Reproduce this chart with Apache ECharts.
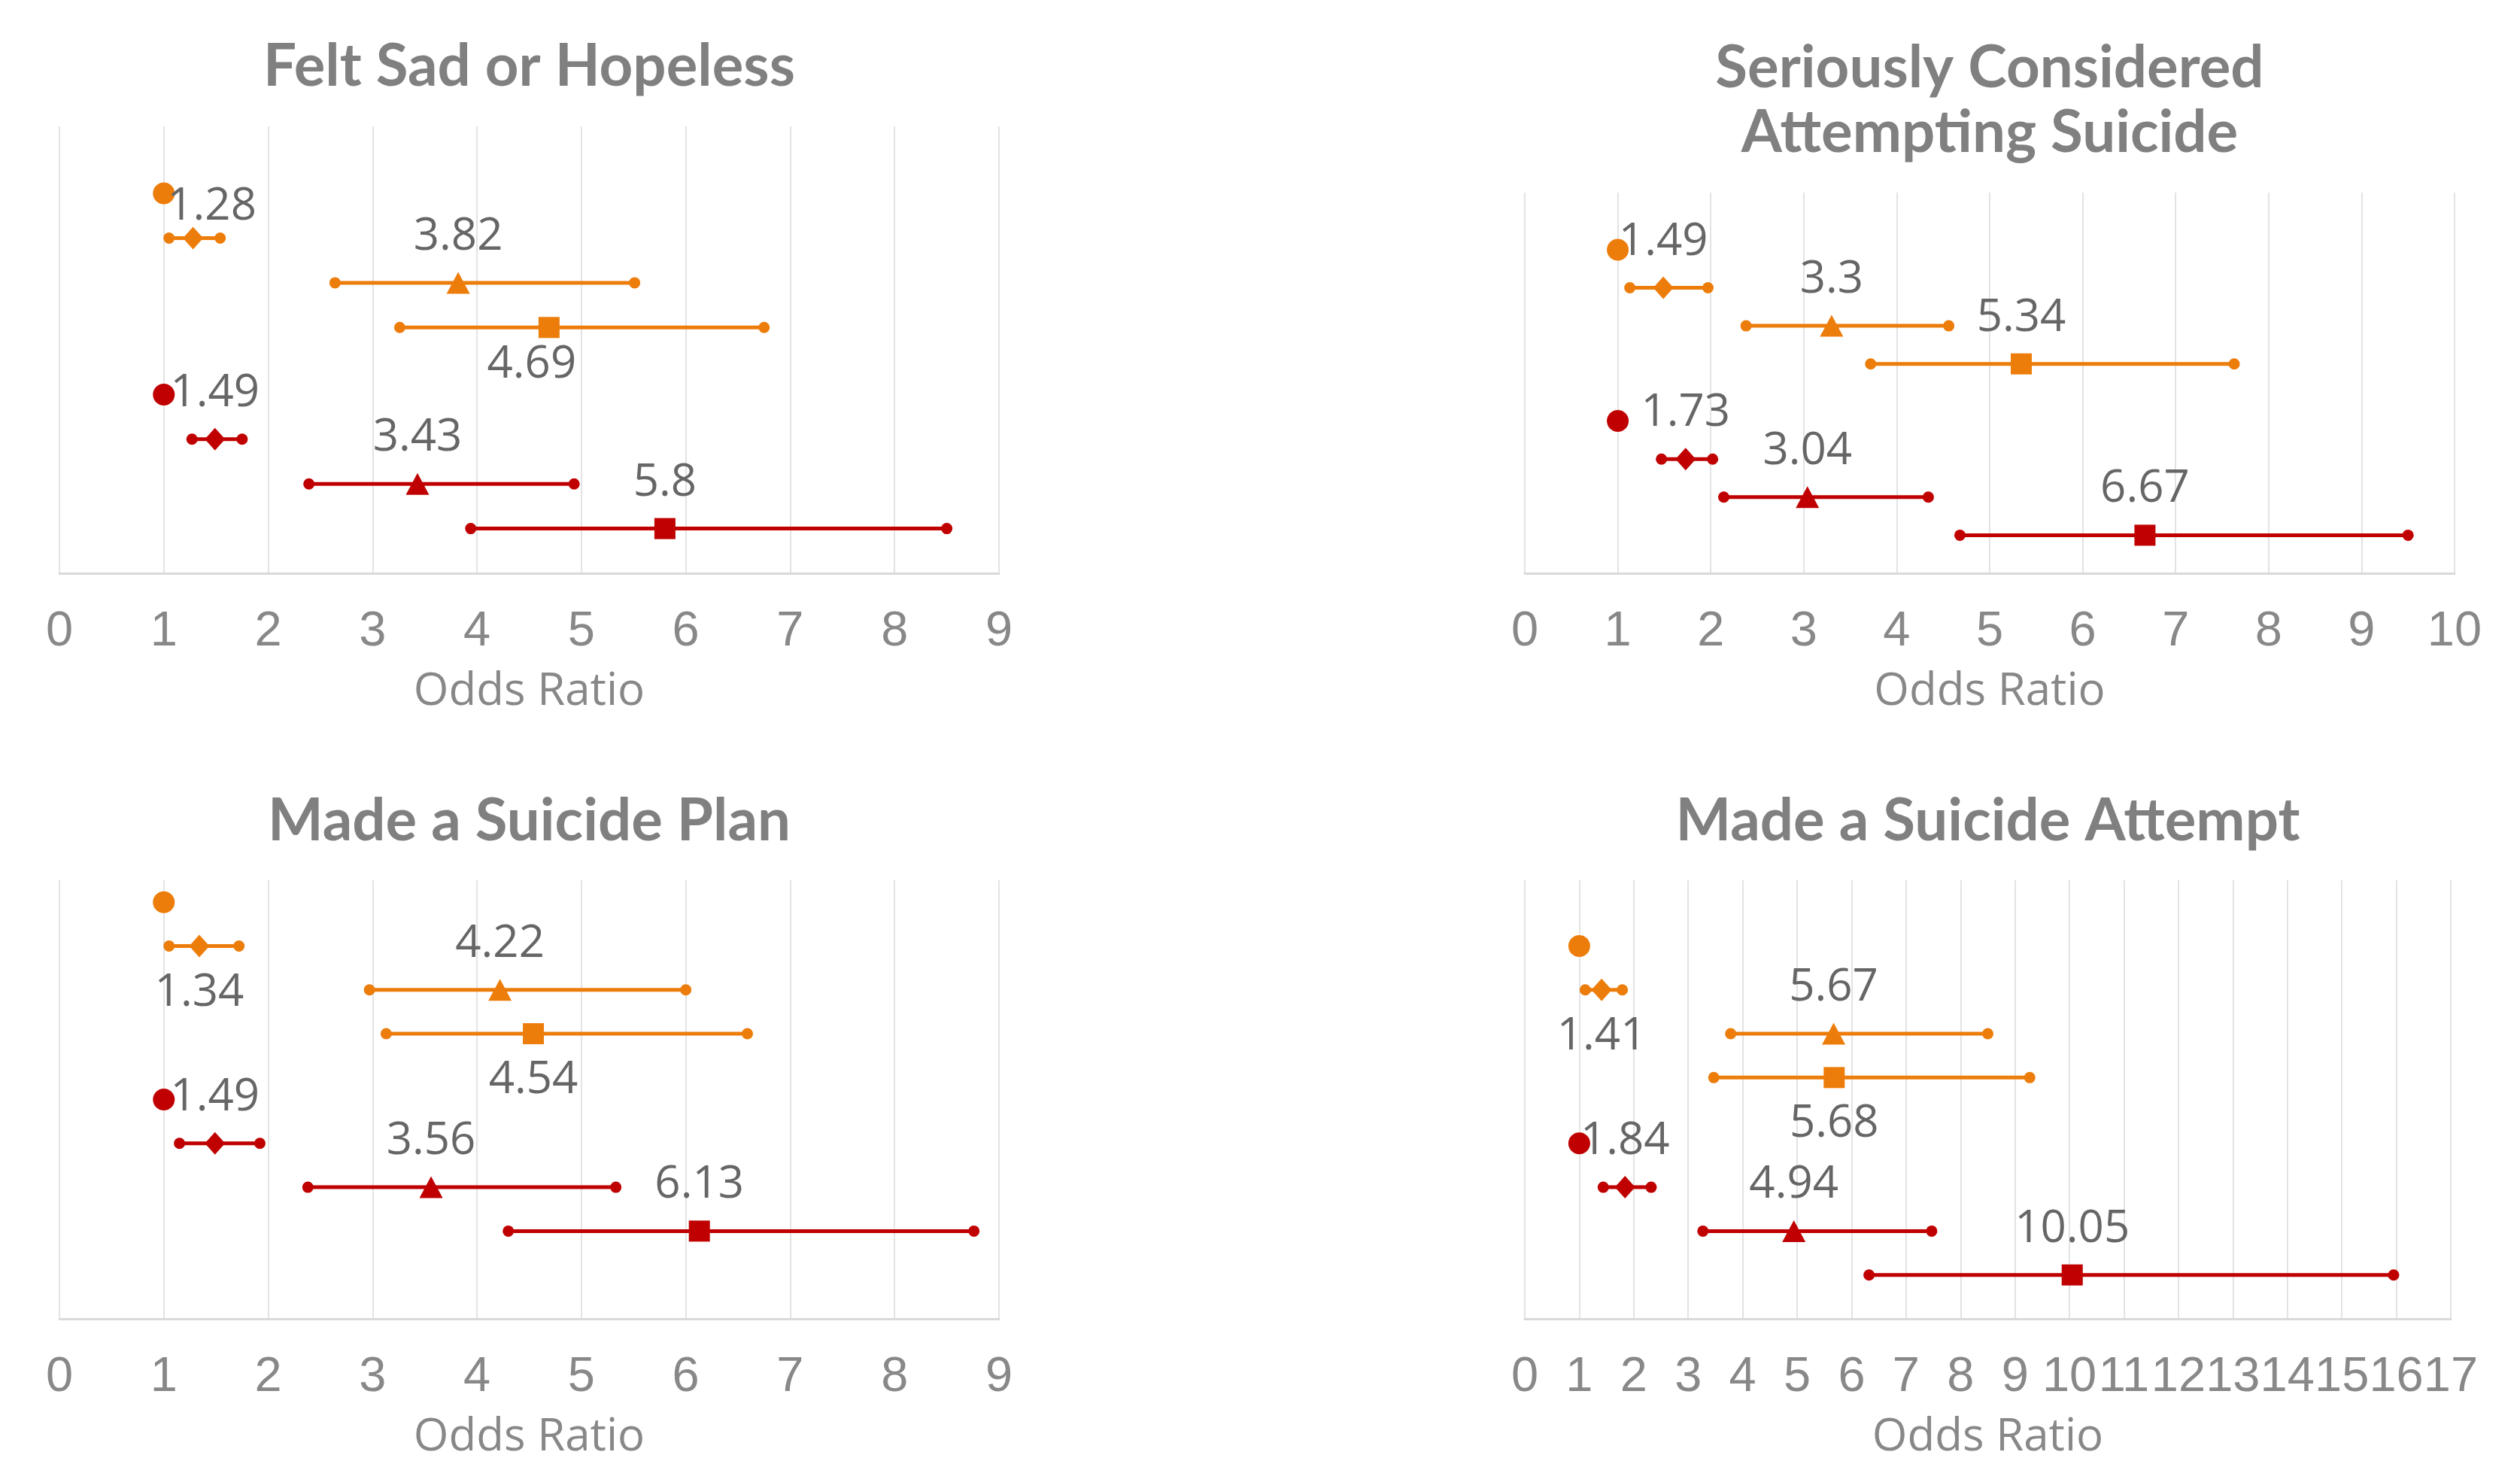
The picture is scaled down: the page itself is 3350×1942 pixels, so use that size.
<!DOCTYPE html>
<html>
<head>
<meta charset="utf-8">
<script src="https://cdn.jsdelivr.net/npm/echarts@6/dist/echarts.min.js"></script>
<style>
  html, body { margin: 0; padding: 0; background: #ffffff; }
  #chart { width: 3350px; height: 1942px; }
</style>
</head>
<body>
<div id="chart"></div>
<script>
// Odds ratios with 95% confidence intervals for two comparison groups, four outcomes.
const panelTitles = ['Felt Sad or Hopeless', 'Seriously Considered\nAttempting Suicide', 'Made a Suicide Plan', 'Made a Suicide Attempt'];
const axisMax = [9, 10, 9, 17];
const axisTitle = 'Odds Ratio';
const referenceOR = 1;

// Estimates per panel, in marker order: diamond, triangle, square
const orangeOR   = [[1.28, 3.82, 4.69], [1.49, 3.3, 5.34], [1.34, 4.22, 4.54], [1.41, 5.67, 5.68]];
const orangeLow  = [[1.05, 2.64, 3.26], [1.13, 2.38, 3.72], [1.05, 2.97, 3.13], [1.11, 3.78, 3.47]];
const orangeHigh = [[1.54, 5.51, 6.75], [1.97, 4.56, 7.63], [1.72, 6.00, 6.59], [1.79, 8.50, 9.27]];
const redOR      = [[1.49, 3.43, 5.8], [1.73, 3.04, 6.67], [1.49, 3.56, 6.13], [1.84, 4.94, 10.05]];
const redLow     = [[1.27, 2.39, 3.94], [1.47, 2.14, 4.68], [1.15, 2.38, 4.30], [1.44, 3.27, 6.32]];
const redHigh    = [[1.75, 4.93, 8.50], [2.02, 4.34, 9.50], [1.92, 5.33, 8.76], [2.32, 7.47, 15.95]];

// Row levels on the hidden 0-10 vertical scale: reference, diamond, triangle, square
const orangeRows = [[8.5, 7.5, 6.5, 5.5], [8.5, 7.5, 6.5, 5.5], [9.5, 8.5, 7.5, 6.5], [8.5, 7.5, 6.5, 5.5]];
const redRows    = [[4, 3, 2, 1], [4, 3, 2, 1], [5, 4, 3, 2], [4, 3, 2, 1]];

// ---- layout and styling ----
const ORANGE = '#ED7D0A';
const RED = '#C00000';
const grids = [
  { left: 79,   top: 168,  width: 1249, height: 594 },
  { left: 2027, top: 256,  width: 1236, height: 506 },
  { left: 79,   top: 1170, width: 1249, height: 594 },
  { left: 2027, top: 1170, width: 1231, height: 594 }
];
const titleTop = [46, 48, 1049, 1049];

// value-label offsets [dx, dy] from each marker's centre
const T = [0, -61], B = [0, 62];
const orangeLabelOffset = [[[25, -42], T, [-23, 50]], [T, T, T], [B, T, B], [B, T, B]];
const redLabelOffset    = [[T, T, T], [T, T, T], [T, T, T], [T, T, T]];

const markerShapes = ['diamond', 'triangle', 'rect'];
const markerSizes = [[27, 30], [31, 29], [28, 28]];

const labelStyle = {
  fontFamily: '"Open Sans", sans-serif',
  fontSize: 60,
  color: '#666666',
  lineHeight: 60
};

const series = [];
const xAxes = [];
const yAxes = [];
const titles = [];

function addGroup(p, color, est, low, high, rows, offsets) {
  // reference category
  series.push({
    type: 'scatter', xAxisIndex: p, yAxisIndex: p, z: 4,
    symbol: 'circle', symbolSize: 29,
    itemStyle: { color: color, opacity: 1 },
    data: [[referenceOR, rows[0]]],
    silent: true
  });
  for (let k = 0; k < 3; k++) {
    // confidence interval
    series.push({
      type: 'line', xAxisIndex: p, yAxisIndex: p, z: 2,
      symbol: 'circle', symbolSize: 15, showSymbol: true,
      lineStyle: { color: color, width: 5 },
      itemStyle: { color: color },
      data: [[low[k], rows[k + 1]], [high[k], rows[k + 1]]],
      silent: true
    });
    // point estimate with its value
    series.push({
      type: 'scatter', xAxisIndex: p, yAxisIndex: p, z: 4,
      symbol: markerShapes[k], symbolSize: markerSizes[k],
      itemStyle: { color: color, opacity: 1 },
      label: Object.assign({
        show: true, position: 'inside', offset: offsets[k],
        formatter: (prm) => String(prm.value[0])
      }, labelStyle),
      data: [[est[k], rows[k + 1]]],
      silent: true
    });
  }
}

for (let p = 0; p < 4; p++) {
  const g = grids[p];
  xAxes.push({
    gridIndex: p, type: 'value', min: 0, max: axisMax[p], interval: 1,
    axisLine: { show: true, onZero: false, lineStyle: { color: '#d9d9d9', width: 3 } },
    axisTick: { show: false },
    splitLine: { show: true, lineStyle: { color: '#e3e3e3', width: 2 } },
    axisLabel: {
      fontFamily: '"Liberation Sans", Arial, sans-serif', fontSize: 65,
      color: '#888888', margin: 46, lineHeight: 65
    },
    name: axisTitle, nameLocation: 'middle', nameGap: 128,
    nameTextStyle: { fontFamily: '"Open Sans", sans-serif', fontSize: 60, color: '#888888', lineHeight: 60 }
  });
  yAxes.push({ gridIndex: p, type: 'value', min: 0, max: 10, show: false });
  titles.push({
    text: panelTitles[p], left: g.left + g.width / 2, top: titleTop[p],
    textAlign: 'center', padding: 0,
    textStyle: { fontFamily: 'Lato, sans-serif', fontWeight: 'bold', fontSize: 78, color: '#808080', lineHeight: 86 }
  });
  addGroup(p, ORANGE, orangeOR[p], orangeLow[p], orangeHigh[p], orangeRows[p], orangeLabelOffset[p]);
  addGroup(p, RED, redOR[p], redLow[p], redHigh[p], redRows[p], redLabelOffset[p]);
}

const chart = echarts.init(document.getElementById('chart'), null, { renderer: 'canvas' });
chart.setOption({
  backgroundColor: '#ffffff',
  animation: false,
  title: titles,
  grid: grids.map(g => Object.assign({ containLabel: false }, g)),
  xAxis: xAxes,
  yAxis: yAxes,
  series: series
});
</script>
</body>
</html>
